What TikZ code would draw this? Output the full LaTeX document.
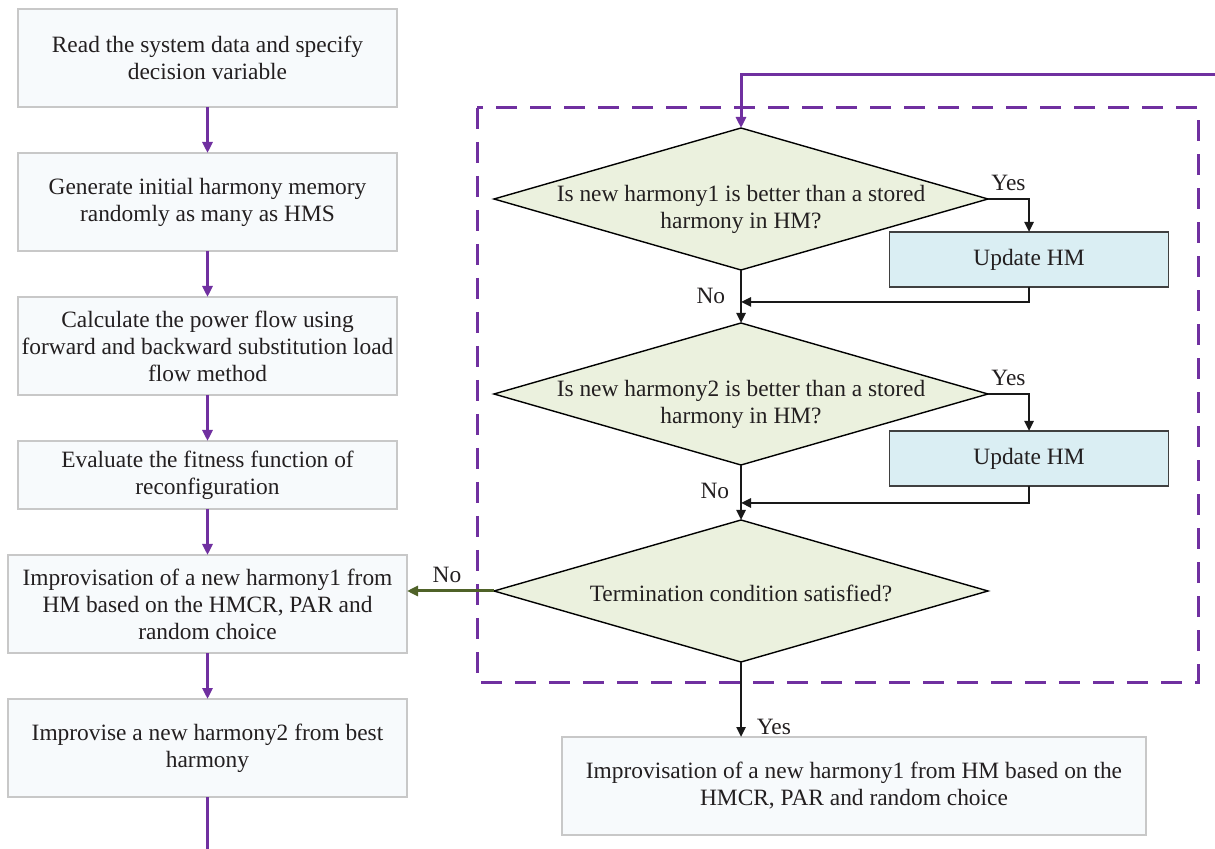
\documentclass[tikz,border=0pt]{standalone}
\usepackage{fontspec}
\setmainfont{Liberation Serif}
\usetikzlibrary{positioning,shapes.geometric,arrows.meta}

\definecolor{flowpurple}{HTML}{7030A0}
\definecolor{nogreen}{HTML}{4F6228}
\definecolor{boxfill}{HTML}{F7FAFC}
\definecolor{boxline}{HTML}{C8C8C8}
\definecolor{testfill}{HTML}{EBF1DE}
\definecolor{updfill}{HTML}{DAEEF3}
\definecolor{inktext}{HTML}{231F20}

\tikzset{
  stepbox/.style={draw=boxline, fill=boxfill, line width=0.6pt, minimum width=189.5pt,
    minimum height=49pt, align=center, inner sep=0pt, outer sep=0pt},
  widebox/.style={stepbox, minimum width=199.5pt},
  decision/.style={diamond, draw=black, fill=testfill, line width=0.7pt,
    minimum width=247pt, minimum height=71pt, inner sep=0pt, outer sep=0pt},
  update/.style={draw=black!75, fill=updfill, line width=0.6pt,
    minimum width=139.5pt, minimum height=27.5pt, inner sep=0pt, outer sep=0pt},
  flow/.style={flowpurple, line width=1.5pt, -{Triangle[length=5.5pt,width=5pt]}},
  conn/.style={black!90, line width=1.2pt, -{Triangle[length=5pt,width=4.5pt]}},
  nolink/.style={nogreen, line width=1.5pt, -{Triangle[length=5.5pt,width=5pt]}},
}

\begin{document}
\begin{tikzpicture}[x=0.5pt, y=-0.5pt,
    every node/.style={text=inktext, font=\fontsize{11.7}{13.5}\selectfont}]
      \useasboundingbox (0,0) rectangle (1215,849);
      % Define nodes
      \node[stepbox] (read) at (207.5,58) {Read the system data and specify\\decision variable};
      \node[stepbox, below=23pt of read] (init) {Generate initial harmony memory\\randomly as many as HMS};
      \node[stepbox, below=23pt of init] (pf) {Calculate the power flow using\\forward and backward substitution load\\flow method};
      \node[stepbox, minimum height=34pt, below=23pt of pf] (fit) {Evaluate the fitness function of\\reconfiguration};
      \node[widebox, below=23pt of fit] (imp1) {Improvisation of a new harmony1 from\\HM based on the HMCR, PAR and\\random choice};
      \node[widebox, below=23pt of imp1] (imp2) {Improvise a new harmony2 from best\\harmony};
      \coordinate (out) at (207.5,849);
      % Inner loop
      \draw[flowpurple, line width=1.5pt, dash pattern=on 10.5pt off 6.5pt] (477,108) rectangle (1198,682);
      \node[decision, label={[align=center, yshift=-5pt]center:Is new harmony1 is better than a stored\\harmony in HM?}] (hm1) at (741,199) {};
      \node[decision, below=26.5pt of hm1, label={[align=center, yshift=-5pt]center:Is new harmony2 is better than a stored\\harmony in HM?}] (hm2) {};
      \node[decision, below=27.5pt of hm2, label={[yshift=-1pt]center:Termination condition satisfied?}] (term) {};
      \node[update] (up1) at (1029,259.5) {Update HM};
      \node[update] (up2) at (1029,458.5) {Update HM};
      \node[stepbox, minimum width=292pt] (result) at (854,786) {Improvisation of a new harmony1 from HM based on the\\HMCR, PAR and random choice};
      \coordinate (m1) at (741,302);
      \coordinate (m2) at (741,503);
      \coordinate (loop) at (1215,75);
      % Connect nodes
      \draw[flow] (read) -- (init);
      \draw[flow] (init) -- (pf);
      \draw[flow] (pf) -- (fit);
      \draw[flow] (fit) -- (imp1);
      \draw[flow] (imp1) -- (imp2);
      \draw[flowpurple, line width=1.5pt] (imp2) -- (out);
      \draw[flow] (loop) -| (hm1.north);
      \draw[conn] (hm1.east) -| node[pos=0.25, above] {Yes} (up1.north);
      \draw[conn] (hm1.south) -- node[pos=0.49, left=4pt] {No} (hm2.north);
      \draw[conn] (up1.south) |- (m1);
      \draw[conn] (hm2.east) -| node[pos=0.25, above] {Yes} (up2.north);
      \draw[conn] (hm2.south) -- node[pos=0.47, left=2pt] {No} (term.north);
      \draw[conn] (up2.south) |- (m2);
      \draw[nolink] (term.west) -- node[pos=0.54, above] {No} (term.west -| imp1.east);
      \draw[conn] (term.south) -- node[pos=0.87, right=4pt] {Yes} (term.south |- result.north);
    \end{tikzpicture}
\end{document}
